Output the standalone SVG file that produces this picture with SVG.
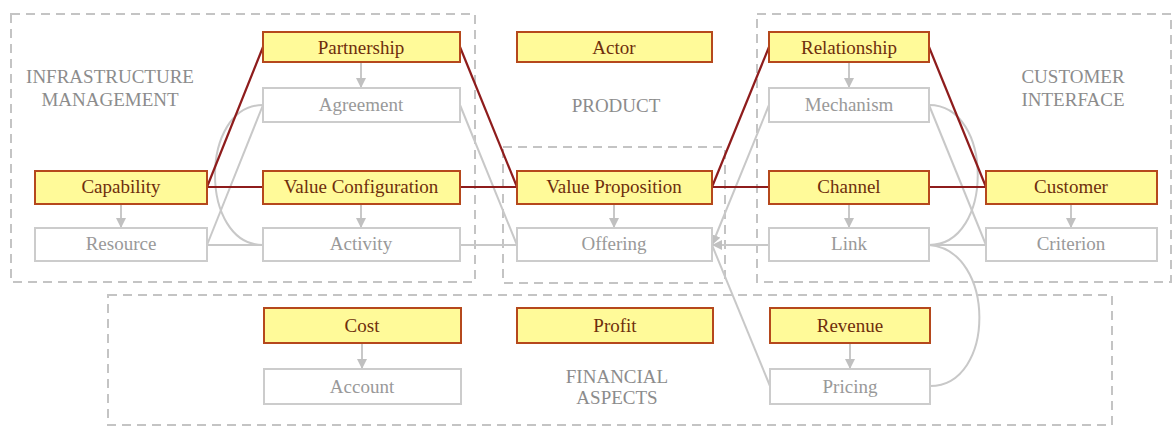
<svg xmlns="http://www.w3.org/2000/svg" width="1176" height="427" viewBox="0 0 1176 427">
<style>
.bg{fill:#ffffff}
.area{fill:none;stroke:#c4c4c4;stroke-width:2;stroke-dasharray:9 6}
.alabel{font-family:"Liberation Serif",serif;font-size:19px;fill:#8c8c8c;text-anchor:middle}
.y rect{fill:#fffa99;stroke:#b5481c;stroke-width:2}
.y text{font-family:"Liberation Serif",serif;font-size:19px;fill:#6e2e0c;text-anchor:middle}
.g rect{fill:#ffffff;stroke:#cccccc;stroke-width:2}
.g text{font-family:"Liberation Serif",serif;font-size:19px;fill:#999999;text-anchor:middle}
.red{fill:none;stroke:#8e1c1c;stroke-width:2.2}
.gl{fill:none;stroke:#c8c8c8;stroke-width:2}
</style>
<defs>
<marker id="ah" viewBox="0 0 10 10" refX="10" refY="5" markerWidth="5" markerHeight="5" markerUnits="strokeWidth" orient="auto">
<path d="M0,0 L10,5 L0,10 z" fill="#c0c0c0"/>
</marker>
</defs>
<rect class="bg" x="0" y="0" width="1176" height="427"/>
<g id="areas">
<rect class="area" x="11" y="14" width="464" height="268"/>
<rect class="area" x="757" y="14" width="414" height="268"/>
<rect class="area" x="503" y="147" width="222" height="136"/>
<rect class="area" x="108" y="295" width="1004" height="130"/>
<text class="alabel" x="110" y="83">INFRASTRUCTURE</text>
<text class="alabel" x="110" y="106">MANAGEMENT</text>
<text class="alabel" x="616" y="112">PRODUCT</text>
<text class="alabel" x="1073" y="83">CUSTOMER</text>
<text class="alabel" x="1073" y="106">INTERFACE</text>
<text class="alabel" x="617" y="383">FINANCIAL</text>
<text class="alabel" x="617" y="404">ASPECTS</text>
</g>
<g id="connectors">
<path class="gl" d="M207,245 L263,105"/>
<path class="gl" d="M207,245 L263,245"/>
<path class="gl" d="M263,105 C199,105 199,245 263,245"/>
<path class="gl" d="M460,105 L517,245"/>
<path class="gl" d="M460,245 L517,245"/>
<path class="gl" d="M769,105 L712,245" marker-end="url(#ah)"/>
<path class="gl" d="M769,245 L712,245" marker-end="url(#ah)"/>
<path class="gl" d="M770,386 L712,245"/>
<path class="gl" d="M929,105 L986,245"/>
<path class="gl" d="M929,105 C994,105 994,245 929,245"/>
<path class="gl" d="M929,245 L986,245"/>
<path class="gl" d="M929,245 C996,250 996,386 930,386"/>
<path class="gl" d="M361,62 L361,88" marker-end="url(#ah)"/>
<path class="gl" d="M121,204 L121,228" marker-end="url(#ah)"/>
<path class="gl" d="M361,204 L361,228" marker-end="url(#ah)"/>
<path class="gl" d="M614,204 L614,228" marker-end="url(#ah)"/>
<path class="gl" d="M849,62 L849,88" marker-end="url(#ah)"/>
<path class="gl" d="M849,204 L849,228" marker-end="url(#ah)"/>
<path class="gl" d="M1071,204 L1071,228" marker-end="url(#ah)"/>
<path class="gl" d="M362,343 L362,369" marker-end="url(#ah)"/>
<path class="gl" d="M850,343 L850,369" marker-end="url(#ah)"/>
<path class="red" d="M207,187 L263,47"/>
<path class="red" d="M207,187 L263,187"/>
<path class="red" d="M460,47 L517,187"/>
<path class="red" d="M460,187 L517,187"/>
<path class="red" d="M712,187 L769,47"/>
<path class="red" d="M712,187 L769,187"/>
<path class="red" d="M929,47 L986,187"/>
<path class="red" d="M929,187 L986,187"/>
</g>
<g id="partnership" class="y"><rect x="263" y="32" width="197" height="30"/><text x="361" y="54">Partnership</text></g>
<g id="agreement" class="g"><rect x="263" y="88" width="197" height="34"/><text x="361" y="111">Agreement</text></g>
<g id="capability" class="y"><rect x="35" y="171" width="172" height="33"/><text x="121" y="193">Capability</text></g>
<g id="resource" class="g"><rect x="35" y="228" width="172" height="33"/><text x="121" y="250">Resource</text></g>
<g id="valueconfiguration" class="y"><rect x="263" y="171" width="197" height="33"/><text x="361" y="193">Value Configuration</text></g>
<g id="activity" class="g"><rect x="263" y="228" width="197" height="33"/><text x="361" y="250">Activity</text></g>
<g id="actor" class="y"><rect x="517" y="32" width="195" height="30"/><text x="614" y="54">Actor</text></g>
<g id="valueproposition" class="y"><rect x="517" y="171" width="195" height="33"/><text x="614" y="193">Value Proposition</text></g>
<g id="offering" class="g"><rect x="517" y="228" width="195" height="33"/><text x="614" y="250">Offering</text></g>
<g id="relationship" class="y"><rect x="769" y="32" width="160" height="30"/><text x="849" y="54">Relationship</text></g>
<g id="mechanism" class="g"><rect x="769" y="88" width="160" height="34"/><text x="849" y="111">Mechanism</text></g>
<g id="channel" class="y"><rect x="769" y="171" width="160" height="33"/><text x="849" y="193">Channel</text></g>
<g id="link" class="g"><rect x="769" y="228" width="160" height="33"/><text x="849" y="250">Link</text></g>
<g id="customer" class="y"><rect x="986" y="171" width="171" height="33"/><text x="1071" y="193">Customer</text></g>
<g id="criterion" class="g"><rect x="986" y="228" width="171" height="33"/><text x="1071" y="250">Criterion</text></g>
<g id="cost" class="y"><rect x="264" y="308" width="197" height="35"/><text x="362" y="332">Cost</text></g>
<g id="account" class="g"><rect x="264" y="369" width="197" height="35"/><text x="362" y="393">Account</text></g>
<g id="profit" class="y"><rect x="517" y="308" width="196" height="35"/><text x="615" y="332">Profit</text></g>
<g id="revenue" class="y"><rect x="770" y="308" width="160" height="35"/><text x="850" y="332">Revenue</text></g>
<g id="pricing" class="g"><rect x="770" y="369" width="160" height="35"/><text x="850" y="393">Pricing</text></g>
</svg>
